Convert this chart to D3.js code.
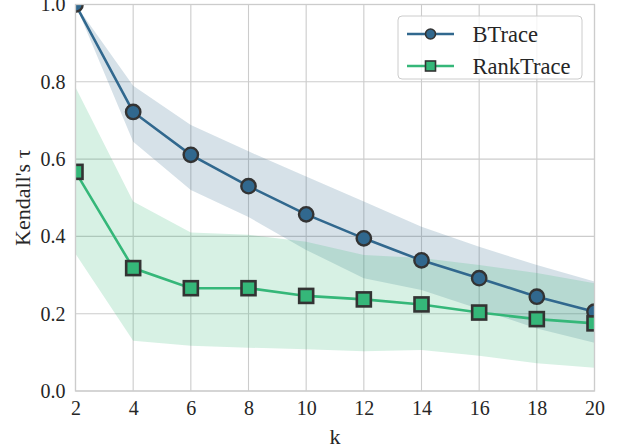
<!DOCTYPE html>
<html>
<head>
<meta charset="utf-8">
<script src="https://d3js.org/d3.v7.min.js"></script>
<style>
  html, body { margin: 0; padding: 0; background: #ffffff; }
  svg { display: block; }
</style>
</head>
<body>
<svg id="chart" width="621" height="448"></svg>
<script>
const kValues = [2, 4, 6, 8, 10, 12, 14, 16, 18, 20];
const btraceMean  = [1.0, 0.722, 0.611, 0.530, 0.457, 0.395, 0.338, 0.292, 0.244, 0.205];
const btraceUpper = [1.0, 0.790, 0.688, 0.620, 0.555, 0.490, 0.425, 0.373, 0.326, 0.283];
const btraceLower = [1.0, 0.645, 0.520, 0.450, 0.365, 0.292, 0.261, 0.212, 0.162, 0.125];
const rankMean  = [0.567, 0.318, 0.266, 0.266, 0.246, 0.237, 0.224, 0.203, 0.186, 0.175];
const rankUpper = [0.786, 0.490, 0.410, 0.404, 0.386, 0.352, 0.344, 0.326, 0.305, 0.279];
const rankLower = [0.355, 0.130, 0.117, 0.112, 0.108, 0.103, 0.106, 0.091, 0.072, 0.060];
const yTicks = [0.0, 0.2, 0.4, 0.6, 0.8, 1.0];
const xTicks = [2, 4, 6, 8, 10, 12, 14, 16, 18, 20];
const seriesNames = ["BTrace", "RankTrace"];
const seriesColors = ["#31688e", "#35b779"];

(function () {
const svg = d3.select("#chart");
const pL = 75.5, pR = 594.5, pT = 4.5, pB = 391;
const x = d3.scaleLinear().domain([2, 20]).range([pL, pR]);
const y = d3.scaleLinear().domain([0, 1]).range([pB, pT]);
const font = "'Liberation Serif', 'Times New Roman', serif";

svg.append("defs").append("clipPath").attr("id", "plotclip")
  .append("rect").attr("x", pL).attr("y", pT).attr("width", pR - pL).attr("height", pB - pT);

// grid
const grid = svg.append("g");
grid.selectAll(".gx").data(xTicks).enter().append("line")
  .attr("x1", d => x(d)).attr("x2", d => x(d)).attr("y1", pT).attr("y2", pB)
  .attr("stroke", "#cccccc").attr("stroke-width", 1.1);
grid.selectAll(".gy").data(yTicks).enter().append("line")
  .attr("x1", pL).attr("x2", pR).attr("y1", d => y(d)).attr("y2", d => y(d))
  .attr("stroke", "#cccccc").attr("stroke-width", 1.1);

const plot = svg.append("g").attr("clip-path", "url(#plotclip)");

const series = [
  { name: seriesNames[0], color: seriesColors[0], mean: btraceMean, lo: btraceLower, hi: btraceUpper, shape: "circle" },
  { name: seriesNames[1], color: seriesColors[1], mean: rankMean, lo: rankLower, hi: rankUpper, shape: "square" }
];

const area = d3.area().x((d, i) => x(kValues[i])).y0(d => y(d[0])).y1(d => y(d[1]));
series.forEach(s => {
  plot.append("path")
    .datum(s.lo.map((v, i) => [v, s.hi[i]]))
    .attr("d", area)
    .attr("fill", s.color).attr("fill-opacity", 0.2);
});

const line = d3.line().x((d, i) => x(kValues[i])).y(d => y(d));
series.forEach(s => {
  plot.append("path").datum(s.mean).attr("d", line)
    .attr("fill", "none").attr("stroke", s.color).attr("stroke-width", 2.6);
  if (s.shape === "circle") {
    plot.selectAll(null).data(s.mean).enter().append("circle")
      .attr("cx", (d, i) => x(kValues[i])).attr("cy", d => y(d)).attr("r", 7.2)
      .attr("fill", s.color).attr("stroke", "#333333").attr("stroke-width", 2.4);
  } else {
    const sz = 14;
    plot.selectAll(null).data(s.mean).enter().append("rect")
      .attr("x", (d, i) => x(kValues[i]) - sz / 2).attr("y", d => y(d) - sz / 2)
      .attr("width", sz).attr("height", sz)
      .attr("fill", s.color).attr("stroke", "#333333").attr("stroke-width", 2.6);
  }
});

// spines
svg.append("rect").attr("x", pL).attr("y", pT).attr("width", pR - pL).attr("height", pB - pT)
  .attr("fill", "none").attr("stroke", "#cccccc").attr("stroke-width", 1.3);

// axes tick labels
const xAxis = d3.axisBottom(x).tickValues(xTicks).tickSize(0).tickPadding(10).tickFormat(d3.format("d"));
const gx = svg.append("g").attr("transform", `translate(0,${pB})`).call(xAxis);
gx.select(".domain").remove();
gx.selectAll("text").attr("font-family", font).attr("font-size", 20).attr("fill", "#262626");

const yAxis = d3.axisLeft(y).tickValues(yTicks).tickSize(0).tickPadding(10).tickFormat(d3.format(".1f"));
const gy = svg.append("g").attr("transform", `translate(${pL},0)`).call(yAxis);
gy.select(".domain").remove();
gy.selectAll("text").attr("font-family", font).attr("font-size", 20).attr("fill", "#262626");

svg.append("text").attr("x", (pL + pR) / 2).attr("y", 444)
  .attr("text-anchor", "middle").attr("font-family", font).attr("font-size", 22).attr("fill", "#262626")
  .text("k");
svg.append("text").attr("transform", `translate(30,${(pT + pB) / 2}) rotate(-90)`)
  .attr("text-anchor", "middle").attr("font-family", font).attr("font-size", 22).attr("fill", "#262626")
  .text("Kendall's τ");

// legend
const lg = svg.append("g");
lg.append("rect").attr("x", 398).attr("y", 16).attr("width", 184).attr("height", 63).attr("rx", 4)
  .attr("fill", "#ffffff").attr("fill-opacity", 0.8).attr("stroke", "#cccccc").attr("stroke-width", 1);
series.forEach((s, i) => {
  const ly = 34 + i * 32;
  lg.append("line").attr("x1", 407).attr("x2", 454).attr("y1", ly).attr("y2", ly)
    .attr("stroke", s.color).attr("stroke-width", 2.6);
  if (s.shape === "circle") {
    lg.append("circle").attr("cx", 430.5).attr("cy", ly).attr("r", 5)
      .attr("fill", s.color).attr("stroke", "#333333").attr("stroke-width", 1.6);
  } else {
    lg.append("rect").attr("x", 430.5 - 5).attr("y", ly - 5).attr("width", 10).attr("height", 10)
      .attr("fill", s.color).attr("stroke", "#333333").attr("stroke-width", 1.6);
  }
  lg.append("text").attr("x", 472.5).attr("y", ly).attr("dy", "0.35em")
    .attr("font-family", font).attr("font-size", 22.5).attr("fill", "#262626").text(s.name);
});
})();
</script>
</body>
</html>
